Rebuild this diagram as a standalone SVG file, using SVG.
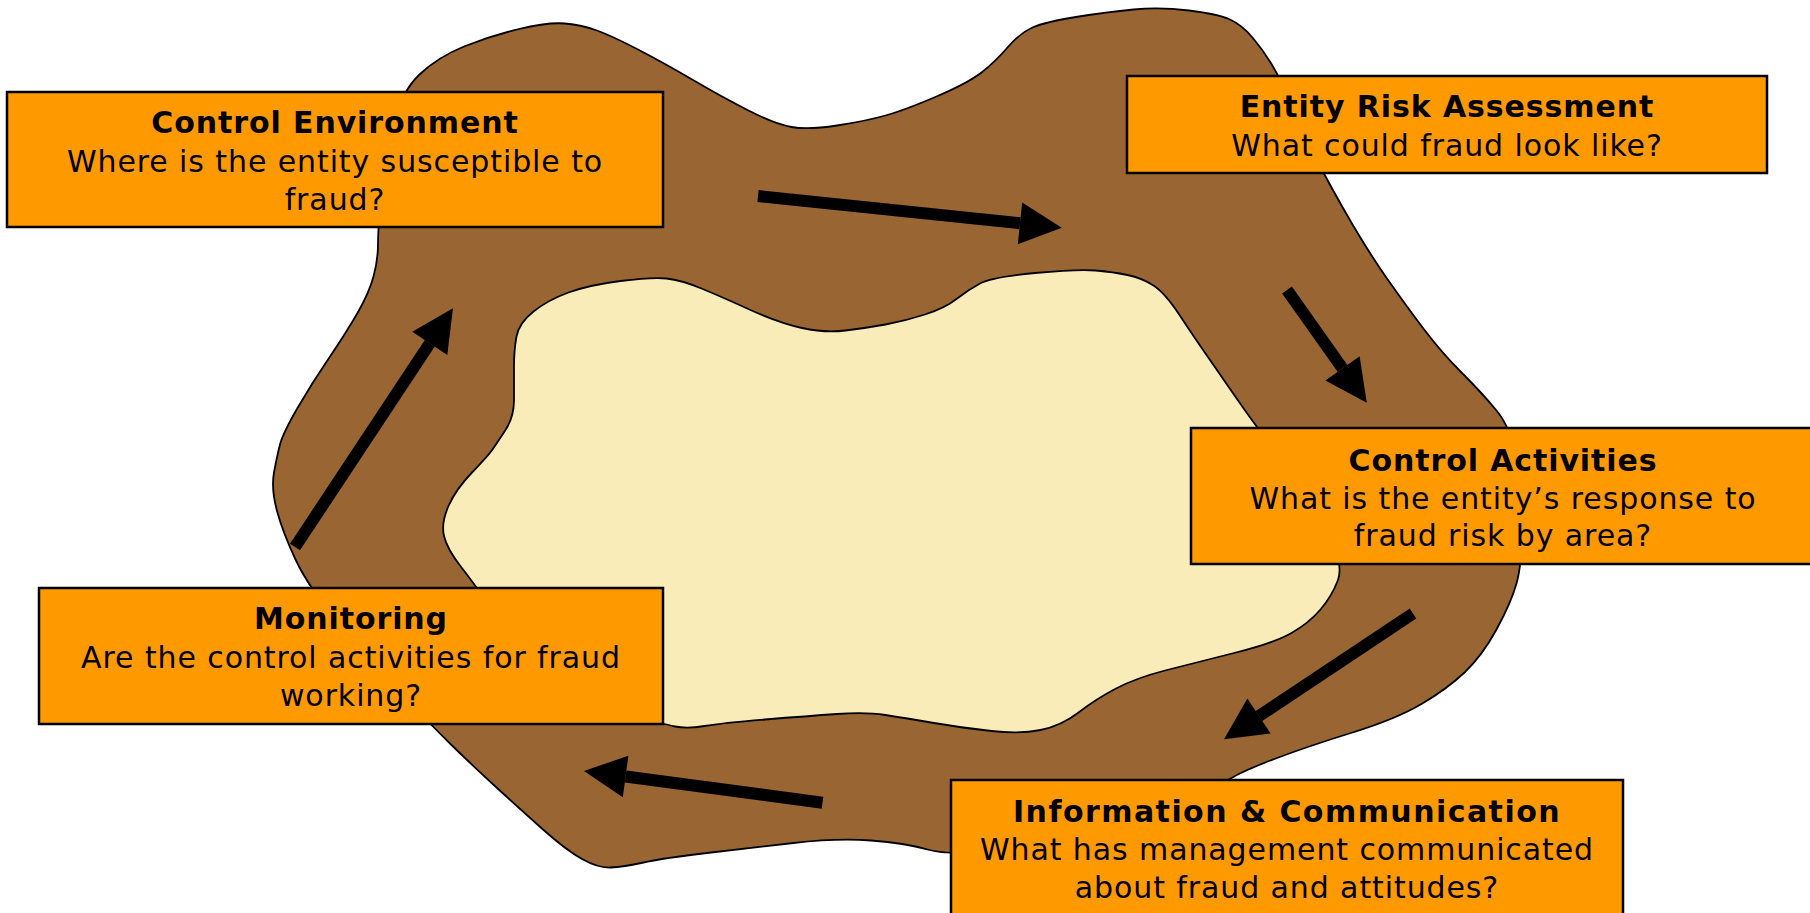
<svg xmlns="http://www.w3.org/2000/svg" width="1810" height="913" viewBox="0 0 1810 913">
<style>
.box{fill:#FF9900;stroke:#000;stroke-width:2.5}
.t{font-family:"DejaVu Sans",Verdana,sans-serif;font-size:30px;fill:#000;text-anchor:middle;letter-spacing:0.9px}
.b{font-weight:bold}
.w{letter-spacing:1.45px}
.arr{stroke:#000;stroke-width:12;fill:none;marker-end:url(#head)}
</style>
<defs>
<marker id="head" markerUnits="strokeWidth" markerWidth="3.6" markerHeight="3.6" refX="0" refY="1.75" orient="auto" overflow="visible">
<path d="M0,0 L3.5,1.75 L0,3.5 Z" fill="#000"/>
</marker>
</defs>
<rect width="1810" height="913" fill="#fff"/>
<g id="ring">
<path fill="#996633" stroke="#000" stroke-width="1.8" d="M393,126 Q401,92 419.5,74.5 Q438,57 464,46.5 Q490,36 519,29 Q548,22 565,23.5 Q582,25 597,30.5 Q612,36 638,49.5 Q664,63 693,80 Q722,97 748.5,110.5 Q775,124 791.5,127 Q808,130 837,125.5 Q866,121 885.5,115.5 Q905,110 936.5,96.5 Q968,83 981.5,72.5 Q995,62 1007.5,47.5 Q1020,33 1032.5,27.5 Q1045,22 1076,17 Q1107,12 1133.5,9.5 Q1160,7 1189,10.5 Q1218,14 1230,19.5 Q1242,25 1252.5,37.5 Q1263,50 1271.5,64 Q1280,78 1290,101.5 Q1300,125 1311.5,149 Q1323,173 1345,211.5 Q1367,250 1387,278.5 Q1407,307 1424.5,330 Q1442,353 1462,373 Q1482,393 1496.5,410.5 Q1511,428 1516.5,459 Q1522,490 1522,527 Q1522,564 1516.5,583.5 Q1511,603 1496.5,629.5 Q1482,656 1464.5,672.5 Q1447,689 1421.5,704 Q1396,719 1352.5,732.5 Q1309,746 1277,758 Q1245,770 1232.5,777.5 Q1220,785 1185,797.5 Q1150,810 1100,827.5 Q1050,845 1000,850.5 Q950,856 927.5,849.5 Q905,843 871,840.5 Q837,838 793.5,843 Q750,848 707,853 Q664,858 643.5,862.5 Q623,867 610.5,867.5 Q598,868 582,859 Q566,850 543,829.5 Q520,809 496.5,787.5 Q473,766 451.5,745 Q430,724 400,692 Q370,660 339.5,624 Q309,588 296,560.5 Q283,533 277,511 Q271,489 274,472.5 Q277,456 280,444.5 Q283,433 297.5,408 Q312,383 329,358 Q346,333 357.5,313 Q369,293 373.5,276.5 Q378,260 378,244 Q378,228 381.5,194 Q385,160 393,126 Z"/>
<path fill="#FAECB8" stroke="#000" stroke-width="1.8" d="M514,400 Q514,383 514,366.5 Q514,350 516.5,336.5 Q519,323 533.5,311.5 Q548,300 568.5,292.5 Q589,285 620.5,281 Q652,277 666.5,278.5 Q681,280 701.5,288.5 Q722,297 750.5,310 Q779,323 802,328 Q825,333 845.5,330.5 Q866,328 885.5,324.5 Q905,321 925,314.5 Q945,308 956.5,299 Q968,290 980,283.5 Q992,277 1035,273 Q1078,269 1095.5,270.5 Q1113,272 1127.5,275 Q1142,278 1153.5,285.5 Q1165,293 1179.5,315 Q1194,337 1205.5,353.5 Q1217,370 1237,399 Q1257,428 1283.5,461.5 Q1310,495 1327,529.5 Q1344,564 1338,580 Q1332,596 1320.5,609.5 Q1309,623 1291.5,633 Q1274,643 1234,653 Q1194,663 1165,670.5 Q1136,678 1116,688.5 Q1096,699 1078.5,712.5 Q1061,726 1040.5,730 Q1020,734 991.5,731 Q963,728 934,723 Q905,718 885.5,715 Q866,712 837,714 Q808,716 765,719.5 Q722,723 704.5,726 Q687,729 675,726.5 Q663,724 631.5,714.5 Q600,705 560,677.5 Q520,650 498,618 Q476,586 461.5,567.5 Q447,549 444,536 Q441,523 448.5,506 Q456,489 472,472.5 Q488,456 492.5,449.5 Q497,443 505.5,430 Q514,417 514,400 Z"/>
</g>
<g id="connectors">
<line class="arr" x1="758" y1="196" x2="1020" y2="223.3"/>
<line class="arr" x1="1287" y1="290" x2="1342.5" y2="368.4"/>
<line class="arr" x1="1413" y1="613.5" x2="1259" y2="716"/>
<line class="arr" x1="822.5" y1="802.7" x2="625.6" y2="776.5"/>
<line class="arr" x1="295" y1="547" x2="429.8" y2="343.3"/>
</g>
<g id="control-environment">
<rect class="box" x="7" y="92" width="656" height="135"/>
<text class="t b" x="335" y="133">Control Environment</text>
<text class="t" x="335" y="172">Where is the entity susceptible to</text>
<text class="t" x="335" y="210">fraud?</text>
</g>
<g id="entity-risk-assessment">
<rect class="box" x="1127" y="76" width="640" height="97"/>
<text class="t b" x="1447" y="117">Entity Risk Assessment</text>
<text class="t" x="1447" y="156">What could fraud look like?</text>
</g>
<g id="control-activities">
<rect class="box" x="1191" y="428" width="626" height="136"/>
<text class="t b" x="1503" y="471">Control Activities</text>
<text class="t" x="1503" y="509">What is the entity’s response to</text>
<text class="t" x="1503" y="546">fraud risk by area?</text>
</g>
<g id="information-communication">
<rect class="box" x="951" y="780" width="672" height="145"/>
<text class="t b w" x="1287" y="822">Information &amp; Communication</text>
<text class="t" x="1287" y="860">What has management communicated</text>
<text class="t" x="1287" y="898">about fraud and attitudes?</text>
</g>
<g id="monitoring">
<rect class="box" x="39" y="588" width="624" height="136"/>
<text class="t b" x="351" y="629">Monitoring</text>
<text class="t" x="351" y="668">Are the control activities for fraud</text>
<text class="t" x="351" y="706">working?</text>
</g>
</svg>
